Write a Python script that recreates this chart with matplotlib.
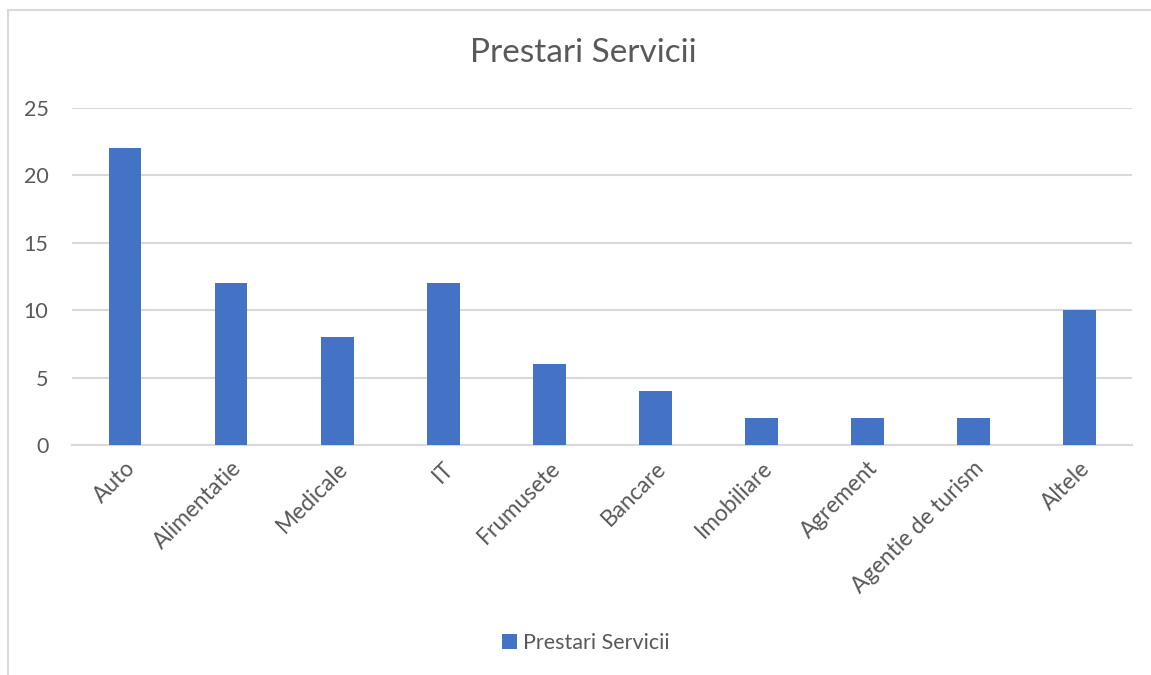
import matplotlib.pyplot as plt
from matplotlib.patches import Rectangle

# Data
categories = ["Auto", "Alimentatie", "Medicale", "IT", "Frumusete", "Bancare",
              "Imobiliare", "Agrement", "Agentie de turism", "Altele"]
values = [22, 12, 8, 12, 6, 4, 2, 2, 2, 10]
series_name = "Prestari Servicii"

plt.rcParams['font.family'] = ['Lato', 'DejaVu Sans']
TEXT = "#595959"
GRID = "#d9d9d9"
BLUE = "#4472c4"

fig = plt.figure(figsize=(11.51, 6.75), dpi=100)
ax = fig.add_axes([0.0626, 0.3407, 0.921, 0.4993])

# outer chart frame (cropped on right and bottom)
fig.patches.append(Rectangle((8/1151, -0.1), 1.2, (675-10)/675 + 0.1,
                             transform=fig.transFigure, fill=False,
                             edgecolor=GRID, linewidth=1.5))

x = range(len(categories))
ax.bar(x, values, width=0.31, color=BLUE, label=series_name, zorder=3)

ax.set_xlim(-0.5, len(categories) - 0.5)
ax.set_ylim(0, 25)
ax.set_yticks([0, 5, 10, 15, 20, 25])
ax.yaxis.grid(True, color=GRID, linewidth=1.5, zorder=0)
ax.set_axisbelow(True)

for s in ["top", "right", "left"]:
    ax.spines[s].set_visible(False)
ax.spines["bottom"].set_color(GRID)
ax.spines["bottom"].set_linewidth(1.5)
ax.tick_params(axis="y", length=0, colors=TEXT, labelsize=15.5, pad=17)
ax.tick_params(axis="x", length=0, colors=TEXT, labelsize=16.3, pad=9)
ax.set_xticks(list(x))
ax.set_xticklabels(categories, rotation=45, ha="right", rotation_mode="anchor")

fig.text(0.507, 0.922, series_name, ha="center", va="center", fontsize=24, color=TEXT)

fig.legend(loc="center", bbox_to_anchor=(0.509, 0.047), frameon=False,
           fontsize=15.5, labelcolor=TEXT, handlelength=0.7, handleheight=0.7,
           handletextpad=0.3)

fig.savefig("out.png", dpi=100)
